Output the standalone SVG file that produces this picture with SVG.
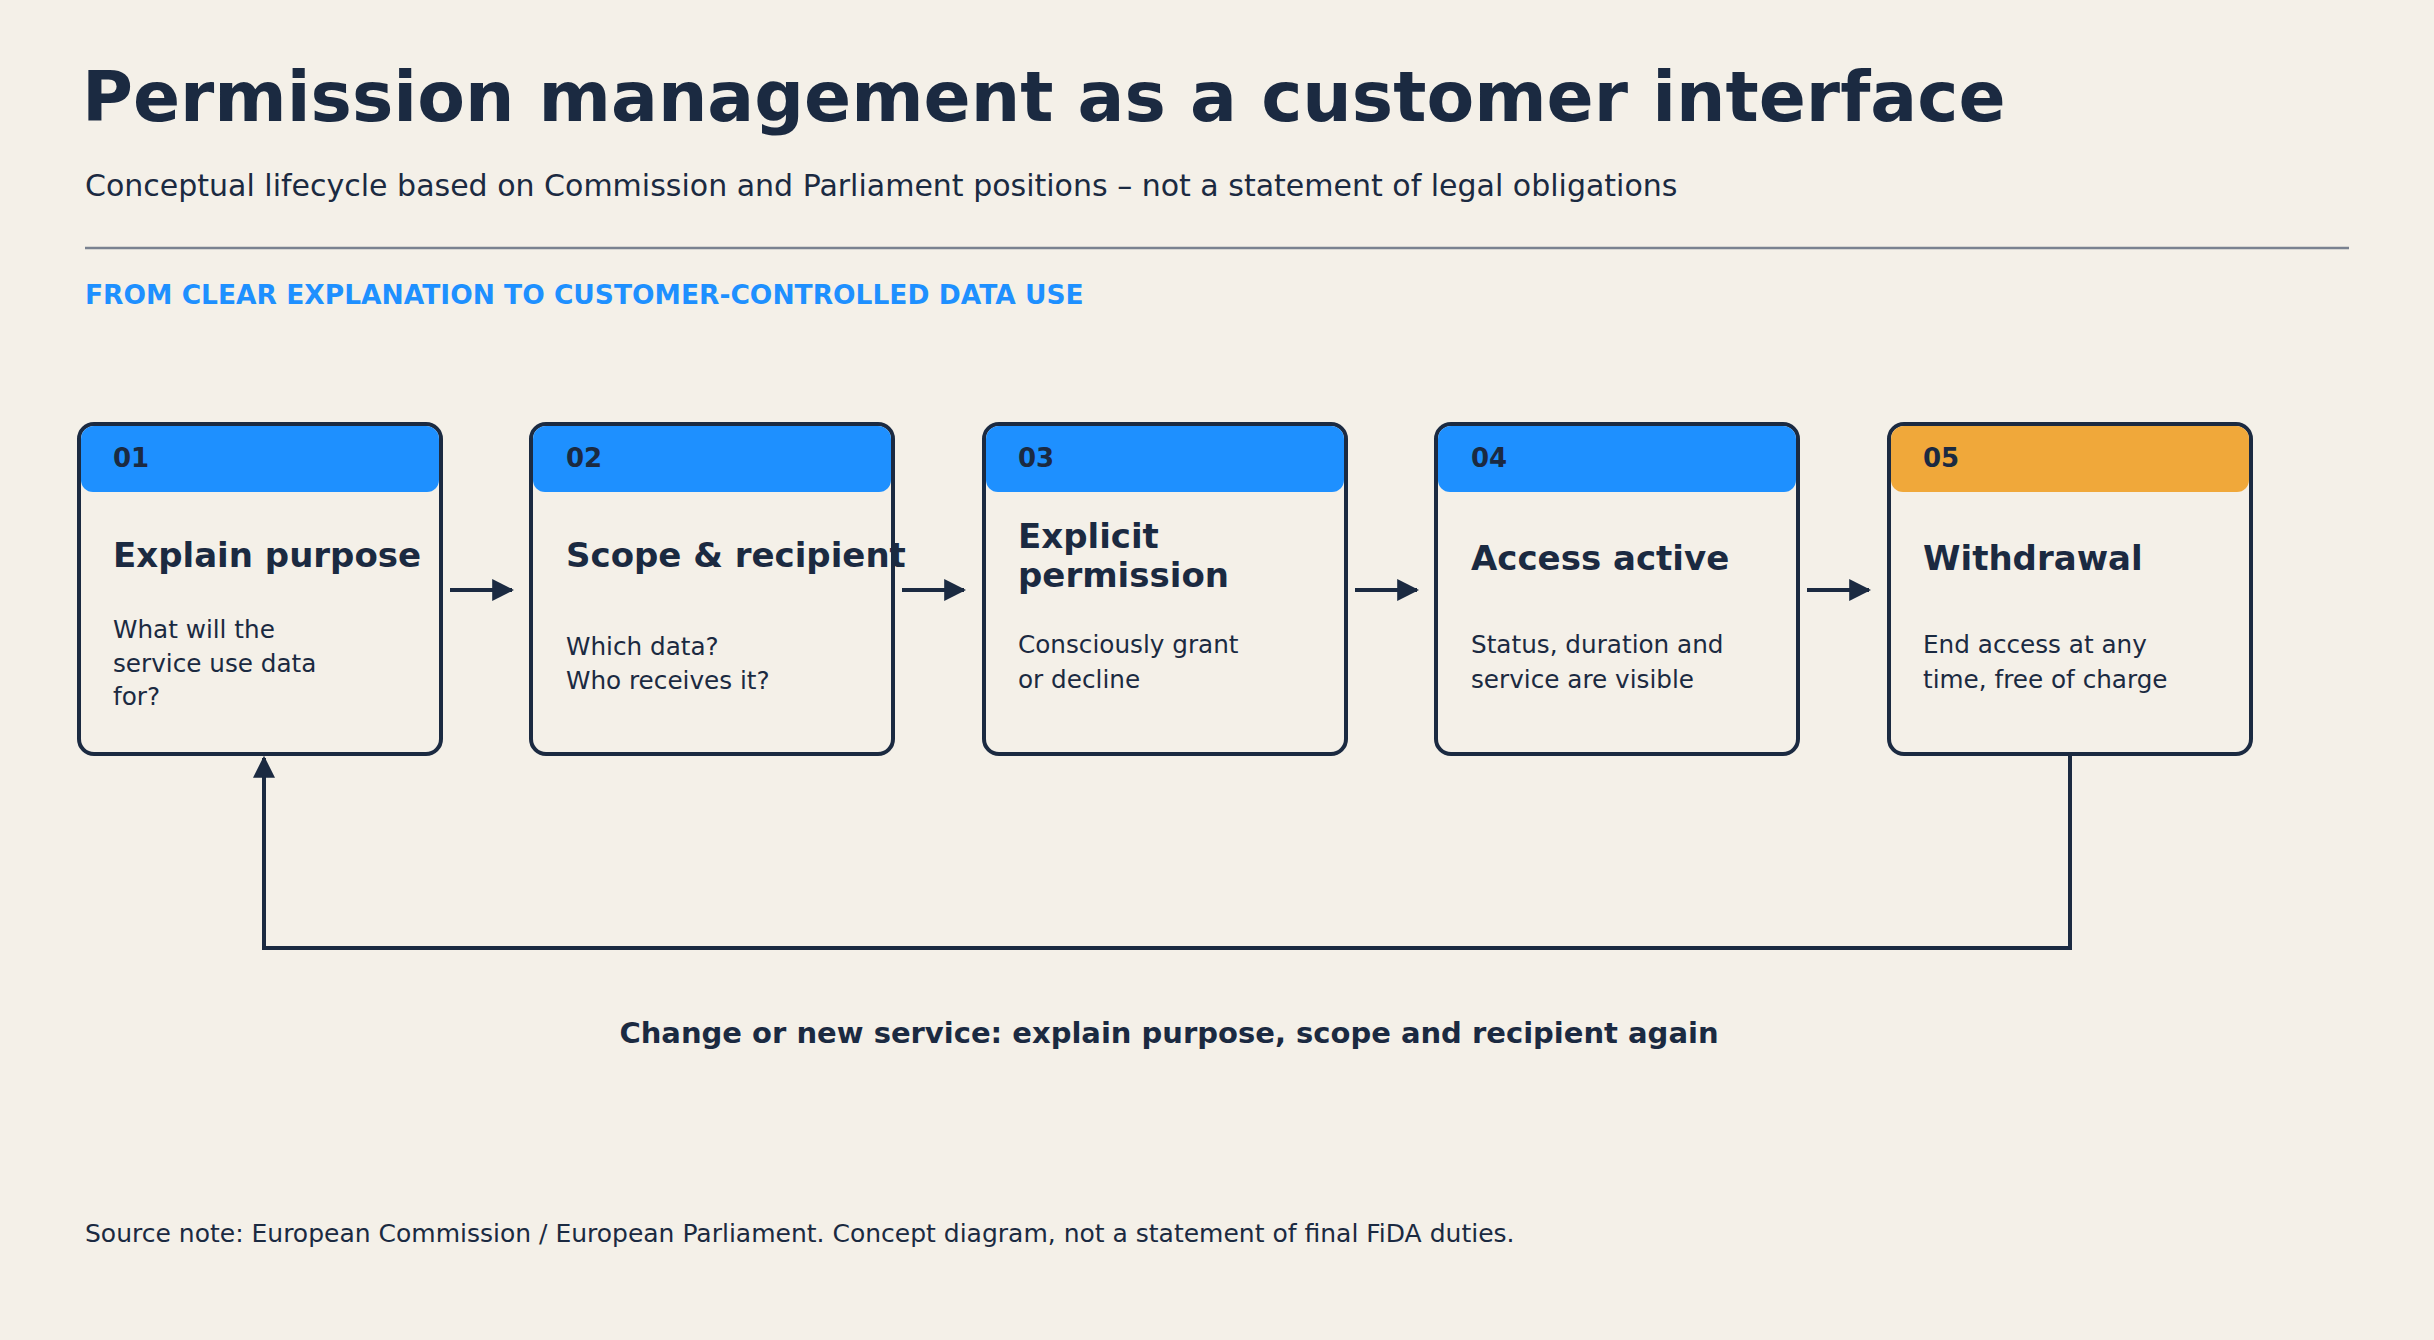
<svg xmlns="http://www.w3.org/2000/svg" width="2434" height="1340" viewBox="0 0 2434 1340">
<style>
text{font-family:"DejaVu Sans","Noto Sans",sans-serif;fill:#1B2A41}
.box{fill:#F4F0E8;stroke:#1B2A41;stroke-width:4}
.num{font-size:26px;font-weight:bold}
.ttl{font-size:34px;font-weight:bold}
.body{font-size:24.7px}
.con{stroke:#1B2A41;stroke-width:4;fill:none}
</style>
<defs>
<marker id="ah2" viewBox="0 0 10 10" refX="9" refY="5" markerWidth="22" markerHeight="22" orient="auto" markerUnits="userSpaceOnUse"><path d="M0,0 L10,5 L0,10 z" fill="#1B2A41"/></marker>
</defs>
<rect width="2434" height="1340" fill="#F4F0E8"/>
<text x="82" y="121" font-size="69.5" font-weight="bold">Permission management as a customer interface</text>
<text x="85" y="196" font-size="30">Conceptual lifecycle based on Commission and Parliament positions – not a statement of legal obligations</text>
<line x1="85" y1="248" x2="2349" y2="248" stroke="#7A8290" stroke-width="2.5"/>
<text x="85" y="304" font-size="26.5" font-weight="bold" style="fill:#1E90FF">FROM CLEAR EXPLANATION TO CUSTOMER-CONTROLLED DATA USE</text>

<g id="n1"><rect class="box" x="79" y="424" width="362" height="330" rx="15"/><path d="M81,480 a12,12 0 0 0 12,12 h334 a12,12 0 0 0 12,-12 v-41 a13,13 0 0 0 -13,-13 h-332 a13,13 0 0 0 -13,13 z" fill="#1E90FF"/>
<text class="num" x="113" y="467">01</text><text class="ttl" x="113" y="567">Explain purpose</text>
<text class="body" x="113" y="638">What will the</text><text class="body" x="113" y="672">service use data</text><text class="body" x="113" y="705">for?</text></g>

<g id="n2"><rect class="box" x="531" y="424" width="362" height="330" rx="15"/><path d="M533,480 a12,12 0 0 0 12,12 h334 a12,12 0 0 0 12,-12 v-41 a13,13 0 0 0 -13,-13 h-332 a13,13 0 0 0 -13,13 z" fill="#1E90FF"/>
<text class="num" x="566" y="467">02</text><text class="ttl" x="566" y="567">Scope &amp; recipient</text>
<text class="body" x="566" y="655">Which data?</text><text class="body" x="566" y="689">Who receives it?</text></g>

<g id="n3"><rect class="box" x="984" y="424" width="362" height="330" rx="15"/><path d="M986,480 a12,12 0 0 0 12,12 h334 a12,12 0 0 0 12,-12 v-41 a13,13 0 0 0 -13,-13 h-332 a13,13 0 0 0 -13,13 z" fill="#1E90FF"/>
<text class="num" x="1018" y="467">03</text><text class="ttl" x="1018" y="548">Explicit</text><text class="ttl" x="1018" y="587">permission</text>
<text class="body" x="1018" y="653">Consciously grant</text><text class="body" x="1018" y="688">or decline</text></g>

<g id="n4"><rect class="box" x="1436" y="424" width="362" height="330" rx="15"/><path d="M1438,480 a12,12 0 0 0 12,12 h334 a12,12 0 0 0 12,-12 v-41 a13,13 0 0 0 -13,-13 h-332 a13,13 0 0 0 -13,13 z" fill="#1E90FF"/>
<text class="num" x="1471" y="467">04</text><text class="ttl" x="1471" y="570">Access active</text>
<text class="body" x="1471" y="653">Status, duration and</text><text class="body" x="1471" y="688">service are visible</text></g>

<g id="n5"><rect class="box" x="1889" y="424" width="362" height="330" rx="15"/><path d="M1891,480 a12,12 0 0 0 12,12 h334 a12,12 0 0 0 12,-12 v-41 a13,13 0 0 0 -13,-13 h-332 a13,13 0 0 0 -13,13 z" fill="#F0A83A"/>
<text class="num" x="1923" y="467">05</text><text class="ttl" x="1923" y="570">Withdrawal</text>
<text class="body" x="1923" y="653">End access at any</text><text class="body" x="1923" y="688">time, free of charge</text></g>

<g id="connectors">
<line class="con" x1="450" y1="590" x2="512" y2="590" marker-end="url(#ah2)"/>
<line class="con" x1="902" y1="590" x2="964" y2="590" marker-end="url(#ah2)"/>
<line class="con" x1="1355" y1="590" x2="1417" y2="590" marker-end="url(#ah2)"/>
<line class="con" x1="1807" y1="590" x2="1869" y2="590" marker-end="url(#ah2)"/>
<path class="con" d="M2070,754 V948 H264 V758" marker-end="url(#ah2)"/>
</g>
<text x="1169" y="1043" font-size="29" font-weight="bold" text-anchor="middle">Change or new service: explain purpose, scope and recipient again</text>
<text x="85" y="1242" font-size="25">Source note: European Commission / European Parliament. Concept diagram, not a statement of final FiDA duties.</text>
</svg>
